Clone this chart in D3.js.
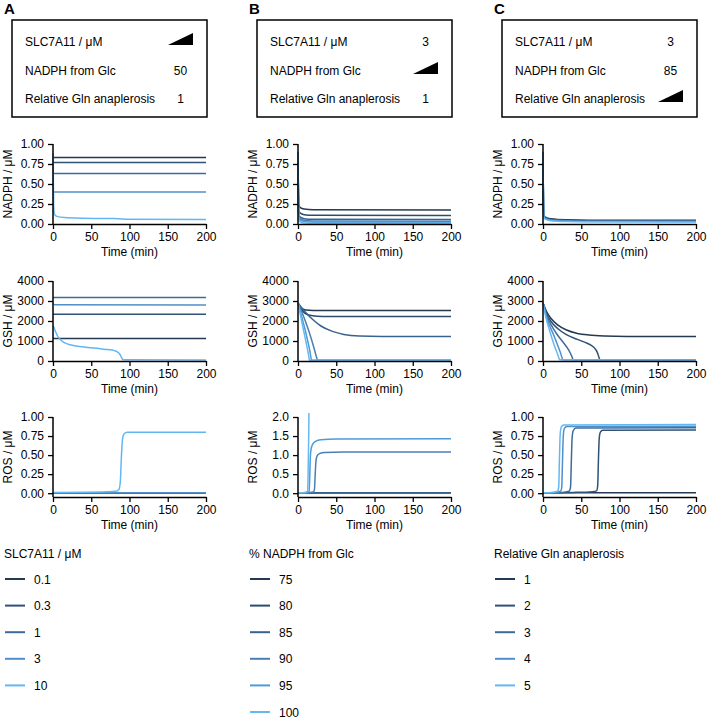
<!DOCTYPE html>
<html><head><meta charset="utf-8">
<script src="https://cdn.jsdelivr.net/npm/d3@7"></script>
<style>
html,body{margin:0;padding:0;background:#fff;}
text{font-family:"Liberation Sans",Arial,sans-serif;}
</style></head>
<body><svg id="chart" width="709" height="718"></svg>
<script>
// ---------- DATA ----------
const panelLetters = ["A", "B", "C"];
const boxRowLabels = ["SLC7A11 / μM", "NADPH from Glc", "Relative Gln anaplerosis"];
const boxValuesA = [null, "50", "1"];   // null = ramp symbol
const boxValuesB = ["3", null, "1"];
const boxValuesC = ["3", "85", null];
const legendTitles = ["SLC7A11 / μM", "% NADPH from Glc", "Relative Gln anaplerosis"];
const slc7a11Levels = ["0.1", "0.3", "1", "3", "10"];
const nadphGlcLevels = ["75", "80", "85", "90", "95", "100"];
const glnLevels = ["1", "2", "3", "4", "5"];
const rowLabels = ["NADPH / μM", "GSH / μM", "ROS / μM"];
const timeTicks = [0, 50, 100, 150, 200];
const nadphTicks = [0, 0.25, 0.5, 0.75, 1];
const gshTicks = [0, 1000, 2000, 3000, 4000];
const rosTicksAC = [0, 0.25, 0.5, 0.75, 1];
const rosTicksB = [0, 0.5, 1, 1.5, 2];
const xLabel = "Time (min)";

// Panel A (SLC7A11 varied)
const nadphA = [
  [[0,0.83],[200,0.83]],
  [[0,0.77],[200,0.77]],
  [[0,0.63],[200,0.63]],
  [[0,0.40],[200,0.40]],
  [[0,0.88],[0.5,0.5],[1,0.2],[2,0.12],[5,0.095],[15,0.08],[40,0.072],[80,0.068],[90,0.064],[95,0.058],[200,0.056]]
];
const gshA = [
  [[0,1120],[200,1120]],
  [[0,2340],[200,2340]],
  [[0,3180],[200,3180]],
  [[0,2870],[2,2810],[200,2800]],
  [[0,1780],[3,1500],[6,1250],[9,1100],[13,960],[20,840],[30,750],[45,680],[60,620],[72,570],[80,520],[84,460],[87,360],[89,220],[90.5,100],[92,60],[200,55]]
];
const rosA = [
  [[0,0.004],[200,0.004]],
  [[0,0.004],[200,0.004]],
  [[0,0.004],[200,0.004]],
  [[0,0.005],[200,0.005]],
  [[0,0.01],[40,0.012],[70,0.018],[82,0.025],[86,0.045],[88,0.15],[89.5,0.5],[91,0.72],[93,0.78],[97,0.80],[200,0.80]]
];
// Panel B (% NADPH from Glc varied)
const nadphB = [
  [[0,0.9],[1,0.24],[3,0.205],[8,0.187],[20,0.178],[200,0.175]],
  [[0,0.9],[1,0.17],[3,0.135],[8,0.117],[20,0.108],[200,0.105]],
  [[0,0.9],[1,0.12],[3,0.085],[8,0.067],[20,0.058],[200,0.055]],
  [[0,0.9],[1,0.095],[3,0.065],[8,0.047],[20,0.038],[200,0.035]],
  [[0,0.9],[1,0.075],[3,0.048],[8,0.03],[20,0.022],[200,0.02]],
  [[0,0.9],[1,0.05],[3,0.025],[8,0.013],[20,0.009],[200,0.008]]
];
const gshB = [
  [[0,2900],[3,2700],[6,2600],[10,2550],[20,2530],[200,2530]],
  [[0,2900],[4,2600],[8,2420],[14,2300],[25,2240],[40,2230],[200,2230]],
  [[0,2900],[5,2650],[10,2430],[20,2050],[30,1750],[45,1480],[60,1330],[80,1250],[110,1225],[200,1220]],
  [[0,2900],[5,2450],[10,1950],[15,1400],[19,900],[22,500],[24,220],[25.5,50],[26,40],[200,40]],
  [[0,2900],[5,2200],[10,1450],[13,950],[15.5,500],[17,150],[17.6,40],[200,40]],
  [[0,2900],[4,2150],[8,1400],[11,850],[13.3,400],[14.6,100],[15,40],[200,40]]
];
const rosB = [
  [[0,0.01],[200,0.01]],
  [[0,0.01],[200,0.01]],
  [[0,0.01],[200,0.01]],
  [[0,0.01],[15,0.015],[20,0.03],[21.5,0.1],[22.5,0.5],[23.5,0.85],[25,0.98],[28,1.04],[35,1.07],[60,1.08],[200,1.08]],
  [[0,0.01],[12,0.02],[14.5,0.05],[15.3,0.4],[16,0.9],[17,1.15],[19,1.28],[23,1.36],[30,1.4],[50,1.42],[200,1.43]],
  [[0,0.01],[10,0.02],[12.5,0.05],[13.3,0.6],[14,1.5],[14.6,2.6],[16,3.2],[200,3.2]]
];
// Panel C (relative Gln anaplerosis varied)
const nadphC = [
  [[0,0.9],[1,0.11],[3,0.085],[10,0.065],[30,0.052],[60,0.048],[200,0.046]],
  [[0,0.9],[1,0.1],[3,0.078],[10,0.058],[30,0.046],[60,0.042],[200,0.04]],
  [[0,0.9],[1,0.095],[3,0.072],[10,0.052],[30,0.04],[60,0.037],[200,0.035]],
  [[0,0.9],[1,0.09],[3,0.066],[10,0.047],[30,0.036],[60,0.032],[200,0.03]],
  [[0,0.9],[1,0.085],[3,0.06],[10,0.042],[30,0.031],[60,0.027],[200,0.025]]
];
const gshC = [
  [[0,2900],[5,2450],[10,2150],[20,1780],[30,1560],[45,1380],[60,1300],[80,1250],[110,1225],[200,1220]],
  [[0,2900],[5,2350],[10,2000],[20,1600],[30,1330],[45,1080],[55,930],[63,780],[68,620],[71,430],[73,200],[74.5,60],[200,55]],
  [[0,2900],[5,2250],[10,1850],[18,1350],[25,1000],[31,700],[35,450],[38,200],[39.5,60],[200,55]],
  [[0,2900],[5,2150],[10,1650],[15,1200],[19,800],[22.5,450],[25,150],[26,60],[200,55]],
  [[0,2900],[4,2150],[8,1600],[12,1100],[16,650],[19,350],[21,120],[22,60],[200,55]]
];
const rosC = [
  [[0,0.005],[200,0.005]],
  [[0,0.005],[40,0.01],[65,0.02],[70,0.03],[71.5,0.1],[72.5,0.45],[73.5,0.72],[75,0.8],[78,0.825],[200,0.83]],
  [[0,0.005],[25,0.01],[34,0.025],[36,0.08],[37,0.4],[38,0.72],[39.5,0.82],[43,0.855],[200,0.86]],
  [[0,0.005],[15,0.01],[23,0.025],[24.5,0.08],[25.5,0.42],[26.5,0.75],[28,0.85],[31,0.875],[200,0.88]],
  [[0,0.005],[12,0.01],[19,0.025],[20.5,0.08],[21.5,0.45],[22.5,0.78],[24,0.87],[27,0.895],[200,0.9]]
];

const colors5 = ["#243a52", "#2f5276", "#3e6c9a", "#508fc9", "#62b7f2"];
const colors6 = ["#243a52", "#2c4c6e", "#38638f", "#4a7fb5", "#4f9ad8", "#66b9f2"];

// ---------- LAYOUT ----------
const svg = d3.select("#chart");
const FONT = 12;
const panelX = [12, 257, 502];          // box left edges
const boxW = 195, boxTop = 20, boxH = 97;
const rowBaselines = [46, 75, 103];
const plotTops = [144, 281, 417];
const plotH = 80, plotW = 153;

const panelDefs = [
  {vals: boxValuesA, legend: slc7a11Levels, colors: colors5, data: [nadphA, gshA, rosA], ros: [-0.05, 1], rosTicks: rosTicksAC, rosFmt: d3.format(".2f")},
  {vals: boxValuesB, legend: nadphGlcLevels, colors: colors6, data: [nadphB, gshB, rosB], ros: [-0.1, 2], rosTicks: rosTicksB, rosFmt: d3.format(".1f")},
  {vals: boxValuesC, legend: glnLevels, colors: colors5, data: [nadphC, gshC, rosC], ros: [-0.05, 1], rosTicks: rosTicksAC, rosFmt: d3.format(".2f")}
];

const defs = svg.append("defs");

panelDefs.forEach((p, pi) => {
  const bx = panelX[pi];
  // panel letter
  svg.append("text").attr("x", bx - 8).attr("y", 14)
    .attr("font-size", 15).attr("font-weight", "bold").text(panelLetters[pi]);
  // box
  svg.append("rect").attr("x", bx).attr("y", boxTop).attr("width", boxW).attr("height", boxH)
    .attr("fill", "none").attr("stroke", "#000").attr("stroke-width", 1.5);
  boxRowLabels.forEach((lab, ri) => {
    svg.append("text").attr("x", bx + 13).attr("y", rowBaselines[ri])
      .attr("font-size", FONT).text(lab);
    const v = p.vals[ri];
    const cx = bx + 168.5;
    if (v === null) {
      const yb = rowBaselines[ri] - 1;
      svg.append("path")
        .attr("d", `M${cx - 12.5},${yb} L${cx + 12.5},${yb} L${cx + 12.5},${yb - 12} Z`)
        .attr("fill", "#000");
    } else {
      svg.append("text").attr("x", cx).attr("y", rowBaselines[ri]).attr("text-anchor", "middle")
        .attr("font-size", FONT).text(v);
    }
  });

  // plots
  const ax = bx + 41;
  const x = d3.scaleLinear().domain([0, 200]).range([ax, ax + plotW]);
  const domains = [[0, 1], [0, 4000], p.ros];
  const ticks = [nadphTicks, gshTicks, p.rosTicks];
  const fmts = [d3.format(".2f"), d3.format("d"), p.rosFmt];
  for (let r = 0; r < 3; r++) {
    const top = plotTops[r];
    const y = d3.scaleLinear().domain(domains[r]).range([top + plotH, top]);
    const clipId = `clip${pi}${r}`;
    defs.append("clipPath").attr("id", clipId).append("rect")
      .attr("x", ax - 2).attr("y", top - 4).attr("width", plotW + 4).attr("height", plotH + 6);
    const line = d3.line().x(d => x(d[0])).y(d => y(d[1])).curve(d3.curveMonotoneX);
    const g = svg.append("g").attr("clip-path", `url(#${clipId})`);
    p.data[r].forEach((s, si) => {
      g.append("path").attr("d", line(s)).attr("fill", "none")
        .attr("stroke", p.colors[si]).attr("stroke-width", 1.5);
    });
    // y axis
    const yAxis = d3.axisLeft(y).tickValues(ticks[r]).tickFormat(fmts[r])
      .tickSize(5).tickPadding(4).tickSizeOuter(0);
    const gy = svg.append("g").attr("transform", `translate(${ax},0)`).call(yAxis);
    gy.select(".domain").attr("stroke-width", 1.5)
      .attr("d", `M0,${y.range()[1]}V${y.range()[0]}`);
    // x axis
    const xAxis = d3.axisBottom(x).tickValues(timeTicks).tickSize(5).tickPadding(3).tickSizeOuter(0);
    const gx = svg.append("g").attr("transform", `translate(0,${top + plotH})`).call(xAxis);
    gx.select(".domain").attr("stroke-width", 1.5);
    [gx, gy].forEach(gg => {
      gg.selectAll("text").attr("font-size", FONT).attr("font-family", "Liberation Sans, Arial, sans-serif").attr("fill", "#000");
      gg.selectAll("line").attr("stroke-width", 1.3).attr("stroke", "#000");
      gg.select(".domain").attr("stroke", "#000");
    });
    // labels
    svg.append("text").attr("x", (ax + ax + plotW) / 2).attr("y", top + plotH + 32)
      .attr("text-anchor", "middle").attr("font-size", FONT).text(xLabel);
    svg.append("text").attr("transform", `translate(${ax - 41},${top + plotH / 2}) rotate(-90)`)
      .attr("text-anchor", "middle").attr("font-size", FONT).text(rowLabels[r]);
  }

  // legend
  const lx = bx - 8;
  svg.append("text").attr("x", lx).attr("y", 558).attr("font-size", FONT).text(legendTitles[pi]);
  p.legend.forEach((lab, li) => {
    const cy = 579 + li * 26.6;
    svg.append("line").attr("x1", lx + 1).attr("x2", lx + 21).attr("y1", cy).attr("y2", cy)
      .attr("stroke", p.colors[li]).attr("stroke-width", 2);
    svg.append("text").attr("x", lx + 30).attr("y", cy + 4.5).attr("font-size", FONT).text(lab);
  });
});
</script></body></html>
